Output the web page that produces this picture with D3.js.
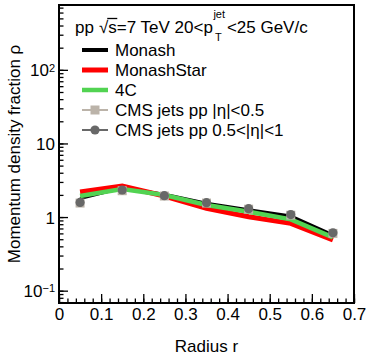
<!DOCTYPE html>
<html>
<head>
<meta charset="utf-8">
<script src="https://cdn.jsdelivr.net/npm/d3@7"></script>
<style>
  html, body { margin: 0; padding: 0; background: #fff; }
  svg { display: block; font-family: "Liberation Sans", Arial, Helvetica, sans-serif; }
</style>
</head>
<body>
<svg id="chart" width="367" height="355"></svg>
<script>
// Jet momentum density fraction vs radius, pp at 7 TeV, 20 < pT(jet) < 25 GeV/c
const radii = [0.05, 0.15, 0.25, 0.35, 0.45, 0.55, 0.65];

const monash     = [1.79, 2.48, 2.04, 1.54, 1.25, 1.03, 0.57];
const monashStar = [2.19, 2.64, 1.93, 1.31, 1.01, 0.82, 0.49];
const tune4C     = [1.93, 2.40, 1.99, 1.46, 1.18, 0.93, 0.53];

const cmsCentral = [1.55, 2.28, 1.93, 1.55, 1.28, 1.06, 0.60];
const cmsCentralErr = [0.07, 0.09, 0.07, 0.06, 0.05, 0.05, 0.04];
const cmsForward = [1.58, 2.33, 1.95, 1.57, 1.30, 1.08, 0.61];
const cmsForwardErr = [0.08, 0.10, 0.08, 0.07, 0.06, 0.06, 0.05];

const xTicks = [0, 0.1, 0.2, 0.3, 0.4, 0.5, 0.6, 0.7];
const yTicks = [0.1, 1, 10, 100];
const yTickLabels = [["10", "\u22121"], ["1", null], ["10", null], ["10", "2"]];

const legendEntries = [
  { label: "Monash", kind: "line", color: "#000000", width: 4 },
  { label: "MonashStar", kind: "line", color: "#ff0000", width: 5 },
  { label: "4C", kind: "line", color: "#52d352", width: 4.5 },
  { label: "CMS jets pp |\u03b7|<0.5", kind: "square", color: "#bbb3a9" },
  { label: "CMS jets pp 0.5<|\u03b7|<1", kind: "circle", color: "#686868" }
];

const svg = d3.select("#chart");
const plotLeft = 59, plotRight = 354, plotTop = 5, plotBottom = 303;

const x = d3.scaleLinear().domain([0, 0.7]).range([plotLeft, plotRight]);
const y = d3.scaleLog().domain([0.068, 760]).range([plotBottom, plotTop]);

// model curves
const line = d3.line().x((d, i) => x(radii[i])).y(d => y(d));
const curves = [
  { values: monash, color: "#000000", width: 3.2 },
  { values: monashStar, color: "#ff0000", width: 5 },
  { values: tune4C, color: "#52d352", width: 4.5 }
];
svg.append("g").selectAll("path").data(curves).join("path")
  .attr("d", d => line(d.values))
  .attr("fill", "none")
  .attr("stroke", d => d.color)
  .attr("stroke-width", d => d.width)
  .attr("stroke-linejoin", "miter");

// CMS |eta|<0.5 squares with error bars
const gSq = svg.append("g");
gSq.selectAll("line").data(cmsCentral).join("line")
  .attr("x1", (d, i) => x(radii[i])).attr("x2", (d, i) => x(radii[i]))
  .attr("y1", (d, i) => y(d + cmsCentralErr[i])).attr("y2", (d, i) => y(d - cmsCentralErr[i]))
  .attr("stroke", "#bbb3a9").attr("stroke-width", 2);
gSq.selectAll("rect").data(cmsCentral).join("rect")
  .attr("x", (d, i) => x(radii[i]) - 4.5).attr("y", d => y(d) - 4.5)
  .attr("width", 9).attr("height", 9)
  .attr("fill", "#bbb3a9");

// CMS 0.5<|eta|<1 circles with error bars
const gCi = svg.append("g");
gCi.selectAll("line").data(cmsForward).join("line")
  .attr("x1", (d, i) => x(radii[i])).attr("x2", (d, i) => x(radii[i]))
  .attr("y1", (d, i) => y(d + cmsForwardErr[i])).attr("y2", (d, i) => y(d - cmsForwardErr[i]))
  .attr("stroke", "#686868").attr("stroke-width", 2);
gCi.selectAll("circle").data(cmsForward).join("circle")
  .attr("cx", (d, i) => x(radii[i])).attr("cy", d => y(d))
  .attr("r", 4.6)
  .attr("fill", "#686868");

// bottom axis, ticks pointing inward
const xAxis = svg.append("g").attr("transform", `translate(0,${plotBottom})`)
  .call(d3.axisBottom(x).tickValues(xTicks).tickSize(-9).tickSizeOuter(0).tickPadding(5)
    .tickFormat(d => d === 0 ? "0" : d3.format(".1f")(d)));
svg.append("g").attr("transform", `translate(0,${plotBottom})`)
  .call(d3.axisBottom(x).tickValues(d3.range(0, 71, 2).map(v => v / 100)).tickSize(-4.5).tickSizeOuter(0).tickFormat(""));

// left axis, log minor ticks
const minorY = [];
for (let e = -2; e <= 2; e++) {
  for (let m = 1; m <= 9; m++) {
    const v = m * Math.pow(10, e);
    if (v >= 0.068 && v <= 760) minorY.push(v);
  }
}
svg.append("g").attr("transform", `translate(${plotLeft},0)`)
  .call(d3.axisLeft(y).tickValues(minorY).tickSize(-4.5).tickSizeOuter(0).tickFormat(""));
const yAxis = svg.append("g").attr("transform", `translate(${plotLeft},0)`)
  .call(d3.axisLeft(y).tickValues(yTicks).tickSize(-9).tickSizeOuter(0).tickPadding(4).tickFormat(""));

yAxis.selectAll(".tick").each(function (d) {
  const [base, sup] = yTickLabels[yTicks.indexOf(d)];
  const t = d3.select(this).append("text")
    .attr("fill", "#000").attr("text-anchor", "end")
    .attr("x", -4).attr("dy", "0.36em")
    .style("font-size", "17px");
  if (sup) {
    t.append("tspan").text(base);
    t.append("tspan").text(sup).attr("dy", "-0.45em").style("font-size", "11px");
  } else {
    t.text(base);
  }
});

[xAxis, yAxis].forEach(g => {
  g.selectAll("text").style("font-size", "17px").attr("fill", "#000")
    .style("font-family", "'Liberation Sans', Arial, sans-serif");
});
yAxis.selectAll("tspan").filter((d, i) => i % 2 === 1).style("font-size", "11px");
svg.selectAll(".tick line").attr("stroke", "#000").attr("stroke-width", 1.3);
svg.selectAll(".domain").remove();

// frame
svg.append("rect")
  .attr("x", plotLeft).attr("y", plotTop)
  .attr("width", plotRight - plotLeft).attr("height", plotBottom - plotTop)
  .attr("fill", "none").attr("stroke", "#000").attr("stroke-width", 2);

// axis titles
svg.append("text")
  .attr("x", (plotLeft + plotRight) / 2).attr("y", 352)
  .attr("text-anchor", "middle").style("font-size", "17px")
  .text("Radius r");
svg.append("text")
  .attr("transform", `translate(20,${(plotTop + plotBottom) / 2}) rotate(-90)`)
  .attr("text-anchor", "middle").style("font-size", "17px")
  .text("Momentum density fraction \u03c1");

// header
const header = svg.append("g").style("font-size", "17px");
const hx = 75, hy = 33;
const t1 = header.append("text").attr("x", hx).attr("y", hy).text("pp");
let cx = hx + t1.node().getComputedTextLength() + 5;
const root = header.append("text").attr("x", cx).attr("y", hy).text("\u221a");
cx += root.node().getComputedTextLength();
const sTxt = header.append("text").attr("x", cx).attr("y", hy).text("s");
const sW = sTxt.node().getComputedTextLength();
header.append("line")
  .attr("x1", cx - 1).attr("x2", cx + sW + 0.5)
  .attr("y1", hy - 14.5).attr("y2", hy - 14.5)
  .attr("stroke", "#000").attr("stroke-width", 1.3);
cx += sW;
const t2 = header.append("text").attr("x", cx).attr("y", hy).text("=7 TeV 20<p");
cx += t2.node().getComputedTextLength();
header.append("text").attr("x", cx + 0.5).attr("y", hy - 15).style("font-size", "11px").text("jet");
header.append("text").attr("x", cx + 2).attr("y", hy + 8).style("font-size", "11px").text("T");
cx += 14;
header.append("text").attr("x", cx).attr("y", hy).text("<25 GeV/c");

// legend
const lg = svg.append("g").selectAll("g").data(legendEntries).join("g")
  .attr("transform", (d, i) => `translate(0,${50 + i * 20})`);
lg.each(function (d) {
  const g = d3.select(this);
  if (d.kind === "line") {
    g.append("line").attr("x1", 82).attr("x2", 108).attr("y1", 0).attr("y2", 0)
      .attr("stroke", d.color).attr("stroke-width", d.width);
  } else {
    g.append("line").attr("x1", 82).attr("x2", 108).attr("y1", 0).attr("y2", 0)
      .attr("stroke", d.color).attr("stroke-width", 2);
    if (d.kind === "square") {
      g.append("rect").attr("x", 90.5).attr("y", -4.5).attr("width", 9).attr("height", 9).attr("fill", d.color);
    } else {
      g.append("circle").attr("cx", 95).attr("cy", 0).attr("r", 4.6).attr("fill", d.color);
    }
  }
  g.append("text").attr("x", 115).attr("y", 6).style("font-size", "17px").text(d.label);
});
</script>
</body>
</html>
